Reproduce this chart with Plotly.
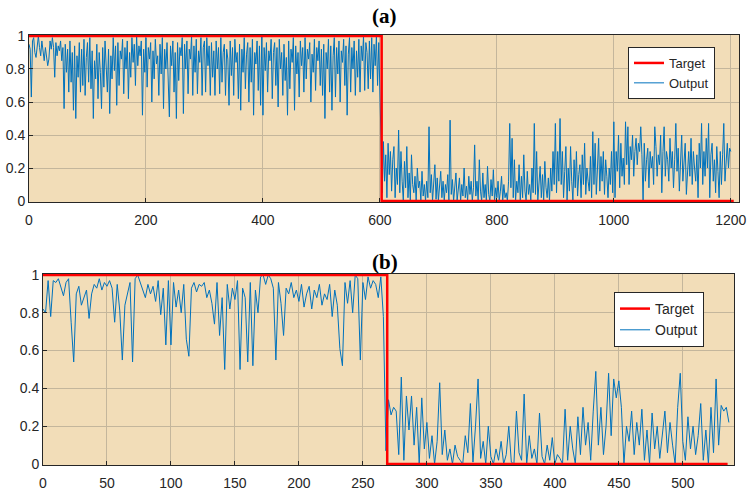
import plotly.graph_objects as go

# ---------------- data: panel (a) ----------------
step_a = 2
output_a_high = [
    0.95,0.92,0.63,0.97,0.99,0.9,0.87,0.95,1.0,0.93,
    0.88,0.97,0.9,0.85,0.93,0.88,0.82,0.86,0.97,0.92,
    0.99,0.93,0.75,0.96,0.88,0.94,0.91,0.97,0.85,0.93,
    0.56,0.95,0.78,0.92,0.66,0.97,0.72,0.9,0.55,0.94,
    0.5,0.88,0.75,0.96,0.66,0.92,0.7,0.98,0.64,0.87,
    0.96,0.72,0.99,0.68,0.91,0.5,0.85,0.74,0.95,0.62,
    0.9,0.78,0.56,0.93,0.69,0.97,0.82,0.66,0.92,0.53,
    0.88,0.74,0.99,0.79,0.94,0.58,0.96,0.7,0.91,0.86,
    0.98,0.65,0.93,0.8,0.97,0.62,0.9,0.75,0.99,0.84,
    0.95,0.7,1.0,0.82,0.94,0.88,0.97,0.52,0.92,0.78,
    0.99,0.69,0.93,0.86,0.96,0.6,0.91,0.74,0.98,0.83,
    0.88,0.64,0.95,0.77,0.99,0.56,0.92,0.8,0.96,0.68,
    0.51,0.94,0.82,0.97,0.66,0.9,0.5,0.96,0.73,0.93,
    0.88,0.99,0.53,0.95,0.8,0.97,0.65,0.92,0.86,1.0,
    0.64,0.94,0.78,0.98,0.65,0.91,0.84,0.99,0.64,0.93,
    0.97,0.66,0.99,0.82,0.94,0.64,0.96,0.75,0.91,0.64,
    0.97,0.8,0.93,0.65,0.99,0.72,0.9,0.95,0.64,0.92,
    0.86,0.58,0.97,0.76,0.93,0.64,0.98,0.84,0.9,0.62,
    0.95,0.55,0.92,0.78,0.99,0.68,0.89,0.96,0.6,0.93,
    0.72,0.98,0.52,0.9,0.83,0.97,0.67,0.94,0.58,1.0,
    0.52,0.93,0.79,0.96,0.66,0.91,0.85,0.98,0.62,0.9,
    0.96,0.7,0.93,0.57,0.98,0.8,0.9,0.64,0.95,0.73,
    0.87,0.52,0.97,0.68,0.92,0.84,0.99,0.55,0.94,0.77,
    0.9,0.63,0.97,0.82,0.93,0.66,0.99,0.74,0.92,0.86,
    0.96,0.6,0.89,0.78,0.98,0.67,0.93,0.85,0.97,0.7,
    0.92,0.64,0.95,0.5,0.9,0.8,0.98,0.66,0.94,0.55,
    0.88,0.99,0.63,0.93,0.77,0.97,0.6,0.91,0.84,0.98,
    0.7,0.94,0.52,0.89,0.99,0.66,0.93,0.8,0.97,0.64,
    0.91,0.75,0.98,0.66,0.94,0.85,1.0,0.67,0.96,0.9,
    0.68,0.97,0.74,0.99,0.66,0.95,0.82,1.0,0.7,0.96,
]
output_a_low = [
    0.66,0.3,0.05,0.36,0.12,0.28,0.02,0.35,0.16,0.3,
    0.06,0.25,0.33,0.02,0.2,0.1,0.43,0.05,0.3,0.12,
    0.0,0.24,0.08,0.33,0.02,0.17,0.0,0.28,0.1,0.05,
    0.15,0.0,0.2,0.08,0.12,0.0,0.18,0.03,0.1,0.0,
    0.12,0.02,0.45,0.05,0.16,0.0,0.1,0.22,0.01,0.14,
    0.0,0.08,0.18,0.02,0.12,0.0,0.1,0.05,0.16,0.0,
    0.49,0.04,0.13,0.0,0.08,0.17,0.0,0.06,0.14,0.0,
    0.1,0.03,0.2,0.02,0.09,0.0,0.15,0.04,0.12,0.0,
    0.08,0.34,0.03,0.12,0.0,0.25,0.06,0.0,0.17,0.02,
    0.1,0.0,0.21,0.04,0.0,0.13,0.03,0.19,0.0,0.08,
    0.02,0.12,0.0,0.06,0.15,0.0,0.1,0.02,0.05,0.0,
    0.12,0.47,0.08,0.38,0.02,0.25,0.0,0.12,0.05,0.22,
    0.0,0.15,0.02,0.28,0.06,0.0,0.18,0.04,0.1,0.0,
    0.2,0.05,0.47,0.04,0.3,0.0,0.12,0.21,0.02,0.16,
    0.0,0.24,0.08,0.02,0.14,0.0,0.2,0.06,0.3,0.1,
    0.47,0.05,0.3,0.12,0.5,0.1,0.3,0.02,0.18,0.33,
    0.0,0.2,0.06,0.33,0.12,0.0,0.25,0.08,0.3,0.03,
    0.16,0.22,0.02,0.28,0.1,0.35,0.04,0.2,0.12,0.06,
    0.27,0.02,0.42,0.1,0.35,0.04,0.2,0.38,0.06,0.27,
    0.12,0.3,0.04,0.25,0.15,0.02,0.2,0.1,0.3,0.05,
    0.48,0.02,0.3,0.18,0.4,0.08,0.35,0.15,0.26,0.1,
    0.48,0.22,0.45,0.1,0.33,0.25,0.4,0.15,0.3,0.38,
    0.22,0.35,0.3,0.45,0.28,0.0,0.35,0.12,0.25,0.32,
    0.08,0.3,0.2,0.27,0.1,0.45,0.33,0.15,0.28,0.22,
    0.4,0.05,0.3,0.45,0.15,0.3,0.25,0.12,0.38,0.2,
    0.3,0.08,0.25,0.47,0.18,0.32,0.06,0.28,0.4,0.12,
    0.25,0.35,0.04,0.22,0.3,0.15,0.38,0.1,0.3,0.2,
    0.12,0.28,0.02,0.35,0.2,0.47,0.1,0.3,0.15,0.38,
    0.2,0.47,0.02,0.28,0.35,0.12,0.25,0.05,0.33,0.18,
    0.02,0.3,0.1,0.28,0.47,0.12,0.28,0.35,0.2,0.32,
    0.3,
]
target_a_x = [0, 603, 1205]
target_a_y = [1, 0, 0]

# ---------------- data: panel (b) ----------------
step_b = 2
output_b_high = [
    0.82,0.8,0.97,0.78,0.97,0.96,0.98,0.93,0.89,0.96,
    0.98,0.75,0.54,0.9,0.94,0.84,0.88,0.92,0.77,0.9,
    0.95,0.93,0.98,0.92,0.96,0.94,0.97,0.93,0.75,0.95,
    0.81,0.55,0.84,0.9,0.96,0.54,0.98,1.0,0.96,0.92,
    0.88,0.95,0.9,0.94,0.86,0.97,0.79,0.93,0.63,0.97,
    0.63,0.96,0.83,0.92,0.8,0.95,0.66,0.57,0.93,0.96,
    0.91,0.95,0.94,0.96,0.88,0.92,0.85,0.74,0.96,0.68,
    0.88,0.5,0.95,0.82,0.93,0.87,0.97,0.5,0.93,0.88,
    0.54,0.96,0.52,0.92,0.8,0.99,1.0,0.95,1.0,0.98,
    0.93,0.55,0.96,0.85,0.68,0.93,0.9,0.96,0.88,0.92,
    0.86,0.95,0.83,0.9,0.94,0.82,0.92,0.88,0.95,0.84,
    0.9,0.87,0.95,0.78,0.92,0.84,0.61,0.52,0.96,0.85,
    0.97,0.8,1.0,0.98,0.55,0.96,0.87,0.99,0.93,0.97,
    0.95,0.88,0.99,0.78,
]
output_b_low = [
    0.07,0.34,0.26,0.3,0.28,0.05,0.46,0.02,0.36,0.18,
    0.36,0.1,0.3,0.0,0.35,0.08,0.22,0.03,0.15,0.0,
    0.12,0.43,0.05,0.18,0.02,0.08,0.0,0.1,0.04,0.02,
    0.0,0.15,0.06,0.32,0.01,0.2,0.45,0.03,0.12,0.0,
    0.2,0.04,0.0,0.08,0.02,0.12,0.0,0.05,0.2,0.01,
    0.0,0.28,0.06,0.02,0.37,0.0,0.15,0.03,0.08,0.0,
    0.27,0.04,0.0,0.1,0.02,0.14,0.0,0.05,0.03,0.0,
    0.29,0.02,0.2,0.08,0.0,0.25,0.05,0.3,0.1,0.22,
    0.02,0.28,0.49,0.1,0.3,0.05,0.2,0.48,0.15,0.45,
    0.35,0.44,0.3,0.0,0.2,0.12,0.28,0.05,0.22,0.1,
    0.29,0.02,0.18,0.0,0.27,0.08,0.2,0.03,0.15,0.28,
    0.06,0.22,0.1,0.0,0.3,0.48,0.12,0.02,0.25,0.08,
    0.2,0.05,0.15,0.32,0.02,0.18,0.0,0.3,0.06,0.45,
    0.1,0.31,0.28,0.3,0.22,
]
target_b_x = [0, 269, 535]
target_b_y = [1, 0, 0]

y_tick_vals = [0, 0.2, 0.4, 0.6, 0.8, 1]
y_tick_text = ["0", "0.2", "0.4", "0.6", "0.8", "1"]
x_ticks_a = [0, 200, 400, 600, 800, 1000, 1200]
x_ticks_b = [0, 50, 100, 150, 200, 250, 300, 350, 400, 450, 500]

# ---------------- build ----------------
out_a = output_a_high + output_a_low
x_a = [i * step_a for i in range(len(out_a))]
out_b = output_b_high + output_b_low
x_b = [i * step_b for i in range(len(out_b))]

RED = "#FF0000"
BLUE = "#0072BD"
BG = "#F2DDB8"
GRID = "#C4B69C"
FONT = "Liberation Sans, Arial, sans-serif"
SERIF = "Liberation Serif, Times New Roman, serif"

fig = go.Figure()
fig.add_trace(go.Scatter(x=x_a, y=out_a, mode="lines",
                         line=dict(color=BLUE, width=1), name="Output", legendrank=2,
                         xaxis="x", yaxis="y", legend="legend"))
fig.add_trace(go.Scatter(x=target_a_x, y=target_a_y, mode="lines", line_shape="hv",
                         line=dict(color=RED, width=2.5), name="Target", legendrank=1,
                         xaxis="x", yaxis="y", legend="legend"))
fig.add_trace(go.Scatter(x=x_b, y=out_b, mode="lines",
                         line=dict(color=BLUE, width=1), name="Output", legendrank=2,
                         xaxis="x2", yaxis="y2", legend="legend2"))
fig.add_trace(go.Scatter(x=target_b_x, y=target_b_y, mode="lines", line_shape="hv",
                         line=dict(color=RED, width=2.5), name="Target", legendrank=1,
                         xaxis="x2", yaxis="y2", legend="legend2"))

tickfont = dict(family=FONT, size=14, color="#262626")
axis_common = dict(showline=True, linecolor="#262626", linewidth=1, mirror=True,
                   ticks="inside", ticklen=4, tickcolor="#262626",
                   showgrid=True, gridcolor=GRID, gridwidth=1, zeroline=False,
                   tickfont=tickfont, automargin=False)

fig.update_layout(
    width=749, height=493,
    margin=dict(l=0, r=0, t=0, b=0, pad=0),
    paper_bgcolor="white",
    plot_bgcolor=BG,
    xaxis=dict(domain=[29/749, 739/749], range=[0, 1214], anchor="y",
               tickvals=x_ticks_a, ticklabelstandoff=5, **axis_common),
    yaxis=dict(domain=[1-202/493, 1-35/493], range=[-0.006, 1.006], anchor="x",
               tickvals=y_tick_vals, ticktext=y_tick_text, **axis_common),
    xaxis2=dict(domain=[43/749, 734/749], range=[0, 540], anchor="y2",
                tickvals=x_ticks_b, ticklabelstandoff=5, **axis_common),
    yaxis2=dict(domain=[1-465/493, 1-274/493], range=[-0.005, 1.005], anchor="x2",
                tickvals=y_tick_vals, ticktext=y_tick_text, **axis_common),
    legend=dict(x=628/749, y=1-47/493, xanchor="left", yanchor="top",
                bgcolor="white", bordercolor="#262626", borderwidth=1,
                font=dict(family=FONT, size=13, color="#262626"),
                tracegroupgap=0, itemwidth=30, traceorder="normal"),
    legend2=dict(x=614/749, y=1-292/493, xanchor="left", yanchor="top",
                 bgcolor="white", bordercolor="#262626", borderwidth=1,
                 font=dict(family=FONT, size=14, color="#262626"),
                 tracegroupgap=0, itemwidth=30, traceorder="normal"),
    showlegend=True,
    annotations=[
        dict(text="<b>(a)</b>", x=385/749, y=1-16/493, xref="paper", yref="paper",
             xanchor="center", yanchor="middle",
             showarrow=False, font=dict(family=SERIF, size=21, color="black")),
        dict(text="<b>(b)</b>", x=385/749, y=1-262/493, xref="paper", yref="paper",
             xanchor="center", yanchor="middle",
             showarrow=False, font=dict(family=SERIF, size=21, color="black")),
    ],
)

fig.write_html("out.html", config={"displayModeBar": False},
               post_script="document.body.style.margin='0';document.body.style.overflow='hidden';")
